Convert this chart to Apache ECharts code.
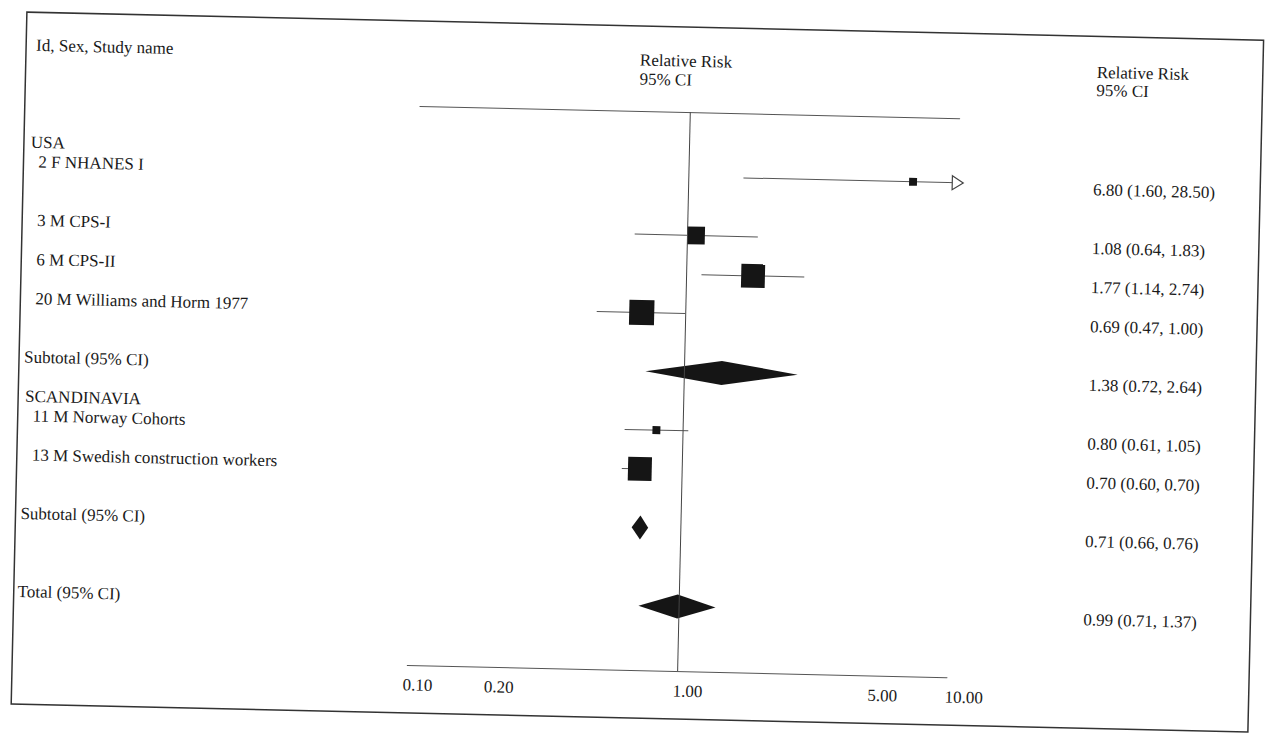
<!DOCTYPE html>
<html>
<head>
<meta charset="utf-8">
<script src="https://cdn.jsdelivr.net/npm/echarts@6/dist/echarts.min.js"></script>
<style>
html,body{margin:0;padding:0;background:#fff;overflow:hidden}
#chart{width:1269px;height:734px;transform:rotate(1.3deg);transform-origin:634.5px 367px}
</style>
</head>
<body>
<div id="chart"></div>
<script>
// ---------- data ----------
const rowLabels = ['USA', '2 F NHANES I', '3 M CPS-I', '6 M CPS-II', '20 M Williams and Horm 1977',
  'Subtotal (95% CI)', 'SCANDINAVIA', '11 M Norway Cohorts', '13 M Swedish construction workers',
  'Subtotal (95% CI)', 'Total (95% CI)'];
const rowKinds = ['group', 'study', 'study', 'study', 'study', 'subtotal', 'group', 'study', 'study', 'subtotal', 'total'];
const relRisk = [null, 6.80, 1.08, 1.77, 0.69, 1.38, null, 0.80, 0.70, 0.71, 0.99];
const ciLow   = [null, 1.60, 0.64, 1.14, 0.47, 0.72, null, 0.61, 0.60, 0.66, 0.71];
const ciHigh  = [null, 28.50, 1.83, 2.74, 1.00, 2.64, null, 1.05, 0.70, 0.76, 1.37];
const studyWeight = [null, 2, 10, 18, 20, null, null, 2, 18, null, null];
const tickValues = [0.1, 0.2, 1, 5, 10];
const tickLabels = ['0.10', '0.20', '1.00', '5.00', '10.00'];

// ---------- layout ----------
const rowSlot = [0, 1, 4, 6, 8, 11, 13, 14, 16, 19, 23];
const Y_MIN = -2.3, Y_MAX = 26.3;
const X_MIN = 0.1, X_MAX = 10;
const FONT = '"Liberation Serif", "Times New Roman", serif';
const TXT = '#1a1a1a';
const labelX = {group: 26, study: 34, subtotal: 24, total: 23};
const tickShift = [-4, -4, -4, 2, -2];

const fmt = v => v.toFixed(2);

const labelData = rowLabels.map((l, i) => [1, rowSlot[i], i]);
const markData = [];
relRisk.forEach((v, i) => {
  if (v != null) markData.push([v, rowSlot[i], ciLow[i], ciHigh[i], studyWeight[i] || 0, rowKinds[i] === 'study' ? 0 : 1]);
});
const tickData = tickValues.map((v, i) => [v, Y_MAX, i]);

const chart = echarts.init(document.getElementById('chart'), null, {renderer: 'svg'});

function txt(x, y, text, extra) {
  return {
    type: 'text', x: x, y: y,
    style: Object.assign({text: text, fill: TXT, fontSize: 17, fontFamily: FONT, align: 'left', verticalAlign: 'middle'}, extra || {})
  };
}

const option = {
  animation: false,
  backgroundColor: '#fff',
  grid: {left: 414, right: 315, top: 111, bottom: 64},
  xAxis: [
    {type: 'log', logBase: 10, min: X_MIN, max: X_MAX, position: 'bottom',
     axisLine: {show: true, onZero: false, lineStyle: {color: '#555', width: 1}},
     axisTick: {show: false}, axisLabel: {show: false}, splitLine: {show: false}},
    {type: 'log', logBase: 10, min: X_MIN, max: X_MAX, position: 'top',
     axisLine: {show: true, onZero: false, lineStyle: {color: '#555', width: 1}},
     axisTick: {show: false}, axisLabel: {show: false}, splitLine: {show: false}}
  ],
  yAxis: {type: 'value', inverse: true, min: Y_MIN, max: Y_MAX, show: false},
  graphic: [
    {type: 'rect', shape: {x: 19, y: 26, width: 1237, height: 692},
     style: {fill: 'none', stroke: '#333', lineWidth: 1.5}, silent: true},
    txt(29, 59, 'Id, Sex, Study name'),
    txt(633, 60, 'Relative Risk'),
    txt(633, 79, '95% CI'),
    txt(1090, 62, 'Relative Risk'),
    txt(1090, 80, '95% CI')
  ],
  series: [
    {
      type: 'custom', name: 'labels', xAxisIndex: 0, yAxisIndex: 0,
      data: labelData, silent: true,
      renderItem: function (params, api) {
        const i = api.value(2);
        const y = api.coord([1, api.value(1)])[1];
        const children = [txt(labelX[rowKinds[i]], y, rowLabels[i])];
        if (relRisk[i] != null) {
          children.push(txt(1089, y + 4, fmt(relRisk[i]) + ' (' + fmt(ciLow[i]) + ', ' + fmt(ciHigh[i]) + ')'));
        }
        return {type: 'group', children: children};
      }
    },
    {
      type: 'custom', name: 'estimates', xAxisIndex: 0, yAxisIndex: 0,
      data: markData, silent: true,
      renderItem: function (params, api) {
        const rr = api.value(0), slot = api.value(1), lo = api.value(2), hi = api.value(3);
        const w = api.value(4), kind = api.value(5);
        const p = api.coord([rr, slot]);
        const pl = api.coord([lo, slot]);
        const ph = api.coord([Math.min(hi, X_MAX), slot]);
        const children = [];
        if (kind === 0) {
          children.push({type: 'line', shape: {x1: pl[0], y1: p[1], x2: ph[0], y2: p[1]},
            style: {stroke: '#555', lineWidth: 1}});
          if (hi > X_MAX) {
            const bx = ph[0] - 6;
            children.push({type: 'polygon', shape: {points: [[bx, p[1] - 7], [bx + 11, p[1]], [bx, p[1] + 7]]},
              style: {fill: '#fff', stroke: '#444', lineWidth: 1.2}});
          }
          const s = 5.6 * Math.sqrt(w);
          children.push({type: 'rect', shape: {x: p[0] - s / 2, y: p[1] - s / 2, width: s, height: s},
            style: {fill: '#151515'}});
        } else {
          children.push({type: 'polygon',
            shape: {points: [[pl[0], p[1]], [p[0], p[1] - 12], [ph[0], p[1]], [p[0], p[1] + 12]]},
            style: {fill: '#151515'}});
        }
        return {type: 'group', children: children};
      },
      markLine: {
        silent: true, symbol: 'none', label: {show: false},
        lineStyle: {color: '#444', width: 1, type: 'solid'},
        data: [{xAxis: 1}]
      }
    },
    {
      type: 'custom', name: 'ticks', xAxisIndex: 0, yAxisIndex: 0,
      data: tickData, silent: true,
      renderItem: function (params, api) {
        const i = api.value(2);
        const p = api.coord([api.value(0), api.value(1)]);
        return txt(p[0] + tickShift[i], p[1] + 20, tickLabels[i]);
      }
    }
  ]
};
chart.setOption(option);
</script>
</body>
</html>
